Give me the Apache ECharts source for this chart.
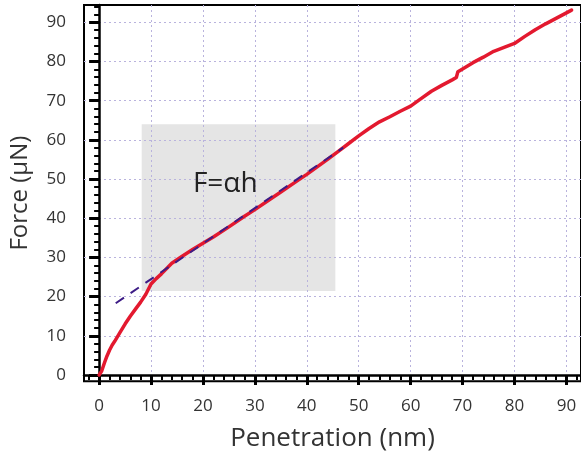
<!DOCTYPE html>
<html>
<head>
<meta charset="utf-8">
<script src="https://cdn.jsdelivr.net/npm/echarts@6/dist/echarts.min.js"></script>
<style>
html,body{margin:0;padding:0;background:#fff;}
#chart{width:581px;height:457px;}
</style>
</head>
<body>
<div id="chart"></div>
<script>
// Loading curve (nm, µN)
const penetration = [0, 0.5, 1, 1.5, 2, 2.5, 3, 4, 5, 6, 7, 8, 9, 10, 11, 12, 14, 16, 18, 20, 22, 25, 28, 30, 33, 35, 38, 40, 42, 44, 46, 48, 50, 52, 54, 56, 58, 60, 62, 64, 66, 68, 68.8, 69.1, 70, 72, 74, 76, 78, 80, 82, 84, 86, 88, 90, 91];
const force       = [0, 1.0, 3.0, 4.8, 6.3, 7.6, 8.6, 10.8, 13.0, 15.0, 16.8, 18.6, 20.6, 23.2, 24.6, 25.8, 28.5, 30.3, 32.0, 33.6, 35.2, 37.8, 40.5, 42.2, 44.9, 46.7, 49.4, 51.2, 53.1, 55.0, 57.0, 59.0, 61.0, 62.9, 64.6, 65.9, 67.3, 68.6, 70.5, 72.4, 73.9, 75.3, 75.9, 77.4, 78.1, 79.7, 81.1, 82.6, 83.6, 84.6, 86.4, 88.1, 89.6, 91.0, 92.4, 93.1];
// Linear fit F = αh (dashed)
const fitX = [3.2, 47];
const fitY = [18.3, 58.0];
// Shaded fit region
const boxX = [8.2, 45.5];
const boxY = [21.4, 64.0];
// Annotation
const annotationText = 'F=αh';
const annotationPos = [24.3, 48.7];
// Ticks
const xMajor = [0, 10, 20, 30, 40, 50, 60, 70, 80, 90];
const yMajor = [0, 10, 20, 30, 40, 50, 60, 70, 80, 90];
const xMinor = [-2, 2, 4, 6, 8, 12, 14, 16, 18, 22, 24, 26, 28, 32, 34, 36, 38, 42, 44, 46, 48, 52, 54, 56, 58, 62, 64, 66, 68, 72, 74, 76, 78, 82, 84, 86, 88, 92];
const yMinor = [2, 4, 6, 8, 12, 14, 16, 18, 22, 24, 26, 28, 32, 34, 36, 38, 42, 44, 46, 48, 52, 54, 56, 58, 62, 64, 66, 68, 72, 74, 76, 78, 82, 84, 86, 88, 92, 94];

const FONT = 'Open Sans';
const X_MIN = -2.91, X_MAX = 92.81, Y_MIN = -1.61, Y_MAX = 94.41;

const chart = echarts.init(document.getElementById('chart'), null, {renderer: 'canvas'});
const gridLine = {show: true, lineStyle: {color: '#b9b3dd', width: 1, type: [2, 3]}};

chart.setOption({
  animation: false,
  backgroundColor: '#fff',
  grid: {left: 83, right: -2, top: 5, bottom: 75.7, show: true, borderColor: '#000', borderWidth: 2, backgroundColor: 'transparent'},
  xAxis: [
    {
      type: 'value', position: 'bottom', min: X_MIN, max: X_MAX,
      axisLine: {show: true, lineStyle: {color: '#000', width: 2.5}},
      axisTick: {show: true, customValues: xMajor, length: 10, inside: false, lineStyle: {color: '#000', width: 3}},
      axisLabel: {show: true, customValues: xMajor, fontSize: 17, color: '#333', margin: 16, fontFamily: FONT},
      splitLine: gridLine,
      name: 'Penetration (nm)', nameLocation: 'middle', nameGap: 44,
      nameTextStyle: {fontSize: 26, color: '#333', fontFamily: FONT}
    },
    {
      type: 'value', position: 'bottom', min: X_MIN, max: X_MAX,
      axisLine: {show: false},
      axisTick: {show: true, customValues: xMinor, length: 5, inside: false, lineStyle: {color: '#000', width: 2}},
      axisLabel: {show: false},
      splitLine: {show: false}
    }
  ],
  yAxis: [
    {
      type: 'value', position: 'left', min: Y_MIN, max: Y_MAX,
      axisLine: {show: true, lineStyle: {color: '#000', width: 2.5}},
      axisTick: {show: true, customValues: yMajor, length: 10, inside: false, lineStyle: {color: '#000', width: 3}},
      axisLabel: {show: true, customValues: yMajor, fontSize: 17, color: '#333', margin: 18, fontFamily: FONT},
      splitLine: gridLine,
      name: 'Force (μN)', nameLocation: 'middle', nameGap: 52, nameRotate: 90,
      nameTextStyle: {fontSize: 24, color: '#333', fontFamily: FONT}
    },
    {
      type: 'value', position: 'left', min: Y_MIN, max: Y_MAX,
      axisLine: {show: false},
      axisTick: {show: true, customValues: yMinor, length: 5, inside: false, lineStyle: {color: '#000', width: 2}},
      axisLabel: {show: false},
      splitLine: {show: false}
    }
  ],
  series: [
    {
      type: 'line', xAxisIndex: 0, yAxisIndex: 0, data: [], silent: true,
      markArea: {
        z: -1, silent: true,
        itemStyle: {color: '#e5e5e5'},
        data: [[{coord: [boxX[0], boxY[1]]}, {coord: [boxX[1], boxY[0]]}]]
      },
      markPoint: {
        symbol: 'circle', symbolSize: 0, silent: true,
        label: {show: true, position: 'inside', formatter: annotationText, fontSize: 28, color: '#222', fontFamily: FONT},
        data: [{coord: annotationPos}]
      }
    },
    {
      type: 'line', xAxisIndex: 0, yAxisIndex: 0, z: 3,
      data: penetration.map((x, i) => [x, force[i]]),
      showSymbol: false, smooth: false, clip: false,
      lineStyle: {color: '#e3192f', width: 3.5, cap: 'round', join: 'round'}
    },
    {
      type: 'line', xAxisIndex: 0, yAxisIndex: 0, z: 4,
      data: fitX.map((x, i) => [x, fitY[i]]),
      showSymbol: false,
      lineStyle: {color: '#3d1c86', width: 2, type: [10, 8]}
    }
  ]
});
</script>
</body>
</html>
